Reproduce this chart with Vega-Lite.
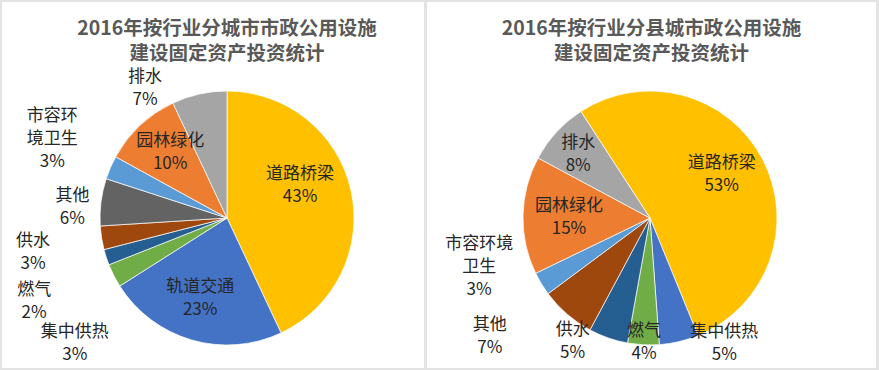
{
  "$schema": "https://vega.github.io/schema/vega-lite/v6.json",
  "background": "#e3e3e3",
  "padding": {"left": 2, "top": 2, "right": 3, "bottom": 2},
  "spacing": 3,
  "config": {
    "view": {"stroke": null},
    "font": "Noto Sans CJK SC",
    "title": {"fontSize": 19.5, "fontWeight": "bold", "color": "#595959", "lineHeight": 24.5, "anchor": "middle", "frame": "group"}
  },
  "resolve": {"scale": {"color": "independent", "theta": "independent", "radius": "independent"}},
  "hconcat": [
    {
      "width": 422,
      "height": 366,
      "view": {"fill": "white", "stroke": null},
      "title": {"text": ["2016年按行业分城市市政公用设施", "建设固定资产投资统计"], "dx": 14, "offset": -62},
      "data": {"values": [
        {"name": "道路桥梁", "value": 43},
        {"name": "轨道交通", "value": 23},
        {"name": "集中供热", "value": 3},
        {"name": "燃气", "value": 2},
        {"name": "供水", "value": 3},
        {"name": "其他", "value": 6},
        {"name": "市容环境卫生", "value": 3},
        {"name": "园林绿化", "value": 10},
        {"name": "排水", "value": 7}
      ]},
      "transform": [
        {"window": [{"op": "row_number", "as": "idx"}]},
        {"calculate": "(datum.name == '市容环境卫生' ? '市容环\\n境卫生' : datum.name) + '\\n' + datum.value + '%'", "as": "label"}
      ],
      "layer": [
        {
          "mark": {"type": "arc", "outerRadius": 127, "xOffset": 14, "yOffset": 33, "stroke": "white", "strokeWidth": 0.7},
          "encoding": {
            "theta": {"field": "value", "type": "quantitative", "stack": true, "scale": {"domain": [0, 100], "range": [0, 6.28319]}},
            "order": {"field": "idx", "type": "quantitative"},
            "color": {"field": "name", "type": "nominal", "legend": null, "scale": {
              "domain": ["道路桥梁", "轨道交通", "集中供热", "燃气", "供水", "其他", "市容环境卫生", "园林绿化", "排水"],
              "range": ["#FFC000", "#4472C4", "#70AD47", "#255E91", "#9E480E", "#636363", "#5B9BD5", "#ED7D31", "#A5A5A5"]}}
          }
        },
        {
          "mark": {"type": "text", "xOffset": 14, "yOffset": 33, "dy": -11.5, "fontSize": 17, "lineHeight": 23, "lineBreak": "\n", "color": "#262626", "align": "center", "baseline": "middle"},
          "encoding": {
            "theta": {"field": "value", "type": "quantitative", "stack": true, "scale": {"type": "linear", "nice": false, "zero": false,
              "domain": [0, 21.5, 54.5, 67.5, 70, 72.5, 77, 81.5, 88, 96.5, 100],
              "range": [0, 1.15192, 3.46273, 4.02473, 4.30573, 4.53437, 4.78220, 5.19236, 5.57109, 5.71770, 6.28319]}},
            "radius": {"field": "value", "type": "quantitative", "scale": {"type": "linear", "nice": false, "zero": false,
              "domain": [2, 3, 6, 7, 10, 23, 43],
              "range": [210, 197, 155, 153, 87, 85, 80]}},
            "order": {"field": "idx", "type": "quantitative"},
            "text": {"field": "label", "type": "nominal"}
          }
        }
      ],
      "resolve": {"scale": {"theta": "independent", "radius": "independent"}}
    },
    {
      "width": 449,
      "height": 366,
      "view": {"fill": "white", "stroke": null},
      "title": {"text": ["2016年按行业分县城市政公用设施", "建设固定资产投资统计"], "offset": -62},
      "data": {"values": [
        {"name": "道路桥梁", "value": 53},
        {"name": "集中供热", "value": 5},
        {"name": "燃气", "value": 4},
        {"name": "供水", "value": 5},
        {"name": "其他", "value": 7},
        {"name": "市容环境卫生", "value": 3},
        {"name": "园林绿化", "value": 15},
        {"name": "排水", "value": 8}
      ]},
      "transform": [
        {"window": [{"op": "row_number", "as": "idx"}]},
        {"calculate": "(datum.name == '市容环境卫生' ? '市容环境\\n卫生' : datum.name) + '\\n' + datum.value + '%'", "as": "label"}
      ],
      "layer": [
        {
          "mark": {"type": "arc", "outerRadius": 127, "xOffset": -1.5, "yOffset": 33, "stroke": "white", "strokeWidth": 0.7},
          "encoding": {
            "theta": {"field": "value", "type": "quantitative", "stack": true, "scale": {"domain": [0, 100], "range": [-0.57596, 5.70723]}},
            "order": {"field": "idx", "type": "quantitative"},
            "color": {"field": "name", "type": "nominal", "legend": null, "scale": {
              "domain": ["道路桥梁", "集中供热", "燃气", "供水", "其他", "市容环境卫生", "园林绿化", "排水"],
              "range": ["#FFC000", "#4472C4", "#70AD47", "#255E91", "#9E480E", "#5B9BD5", "#ED7D31", "#A5A5A5"]}}
          }
        },
        {
          "mark": {"type": "text", "xOffset": -1.5, "yOffset": 33, "dy": -11.5, "fontSize": 17, "lineHeight": 23, "lineBreak": "\n", "color": "#262626", "align": "center", "baseline": "middle"},
          "encoding": {
            "theta": {"field": "value", "type": "quantitative", "stack": true, "scale": {"type": "linear", "nice": false, "zero": false,
              "domain": [0, 26.5, 55.5, 60, 64.5, 70.5, 75.5, 84.5, 96, 100],
              "range": [-0.57596, 1.02276, 2.60752, 3.18872, 3.70010, 4.07709, 4.49422, 4.71239, 5.43845, 5.70723]}},
            "radius": {"field": "value", "type": "quantitative", "scale": {"type": "linear", "nice": false, "zero": false,
              "domain": [3, 4, 5, 7, 8, 15, 53],
              "range": [175, 125, 146, 199, 96, 81, 84]}},
            "order": {"field": "idx", "type": "quantitative"},
            "text": {"field": "label", "type": "nominal"}
          }
        }
      ],
      "resolve": {"scale": {"theta": "independent", "radius": "independent"}}
    }
  ]
}
